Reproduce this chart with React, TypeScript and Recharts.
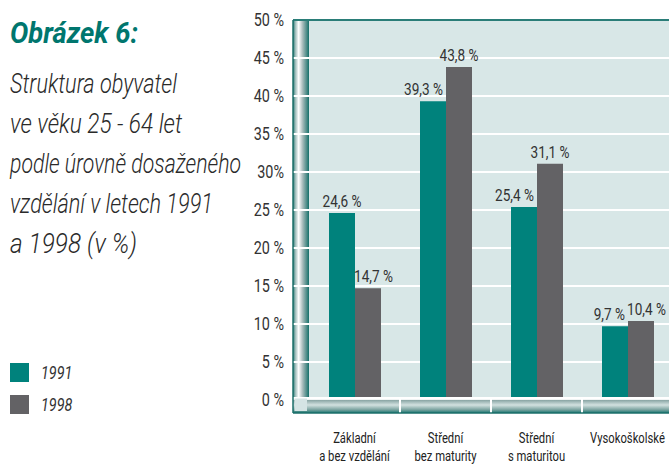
import React from 'react';
import { BarChart, Bar, XAxis, YAxis, CartesianGrid, LabelList, Legend } from 'recharts';

const categories = ['Základní\na bez vzdělání', 'Střední\nbez maturity', 'Střední\ns maturitou', 'Vysokoškolské'];
const values1991 = [24.6, 39.3, 25.4, 9.7];
const values1998 = [14.7, 43.8, 31.1, 10.4];
const yTicks = [0, 5, 10, 15, 20, 25, 30, 35, 40, 45, 50];
const yTickLabels = ['0 %', '5 %', '10 %', '15 %', '20 %', '25 %', '30%', '35 %', '40 %', '45 %', '50 %'];
const seriesNames = ['1991', '1998'];
const titleText = 'Obrázek 6:';
const subtitleLines = ['Struktura obyvatel', 've věku 25 - 64 let', 'podle úrovně dosaženého', 'vzdělání v letech 1991', 'a 1998 (v %)'];
const subtitleWidths = [167, 172, 231, 203, 127];

const data = categories.map((c, i) => ({ cat: c, v1991: values1991[i], v1998: values1998[i] }));

const FONT = "Roboto, 'Noto Sans', sans-serif";
const TEAL = '#00827c';
const GRAY = '#636265';
const BG = '#d8e7e7';
const SX = 0.8;

const CHART_W = 680;
const CHART_H = 465;
const PLOT_LEFT = 309;
const PLOT_TOP = 20;
const PLOT_BOTTOM = 400;
const WALL_LEFT = 293;
const FLOOR_BOTTOM = 413;
const FLOOR_TOP = 397;

const fmt = (v: number) => v.toFixed(1).replace('.', ',') + ' %';

const CText = ({ x, y, anchor = 'start', size, sx = SX, fill = '#333', children }: any) => (
  <text
    transform={`translate(${x} ${y}) scale(${sx} 1)`}
    textAnchor={anchor}
    fontFamily={FONT}
    fontSize={size}
    fill={fill}
  >
    {children}
  </text>
);

const makeLabel = (series: 0 | 1) => (props: any) => {
  const { x, y, width, value, index } = props;
  const other = series === 0 ? values1998[index] : values1991[index];
  let anchor: 'middle' | 'start' | 'end' = 'middle';
  let tx = x + width / 2;
  if (series === 0 && value < other) {
    anchor = 'end';
    tx = x + width - 3;
  }
  if (series === 1 && (value < other || Math.abs(value - other) < 2)) {
    anchor = 'start';
    tx = x - 1;
  }
  return (
    <CText x={tx} y={y - 6} anchor={anchor} size={17}>
      {fmt(value)}
    </CText>
  );
};

const XTick = (props: any) => {
  const { x, y, payload } = props;
  const lines = String(payload.value).split('\n');
  return (
    <g>
      {lines.map((l, i) => (
        <CText key={i} x={x} y={y + 43 + i * 18} anchor="middle" size={15} sx={0.75} fill="#222">
          {l}
        </CText>
      ))}
    </g>
  );
};

const YTick = (props: any) => {
  const { x, y, payload } = props;
  const idx = yTicks.indexOf(payload.value);
  return (
    <CText x={x} y={y + 6} anchor="end" size={18}>
      {yTickLabels[idx]}
    </CText>
  );
};

const LegendContent = (props: any) => {
  const { payload } = props;
  return (
    <div>
      {(payload || []).map((p: any, i: number) => (
        <div key={i} style={{ display: 'flex', alignItems: 'center', height: 32 }}>
          <div style={{ width: 19, height: 19, background: p.color }} />
          <span
            style={{
              marginLeft: 12,
              fontFamily: FONT,
              fontStyle: 'italic',
              fontSize: 18,
              color: '#333',
              display: 'inline-block',
              transform: `scaleX(${SX})`,
              transformOrigin: 'left center',
            }}
          >
            {p.value}
          </span>
        </div>
      ))}
    </div>
  );
};

const Overlay = () => {
  const yOf = (v: number) => PLOT_BOTTOM - (v / 50) * (PLOT_BOTTOM - PLOT_TOP);
  const band = (CHART_W - 7 - PLOT_LEFT) / categories.length;
  return (
    <svg width={CHART_W} height={CHART_H} style={{ position: 'absolute', left: 0, top: 0, pointerEvents: 'none' }}>
      <defs>
        <linearGradient id="wall" x1="0" y1="0" x2="1" y2="0">
          <stop offset="0" stopColor="#2a7a75" />
          <stop offset="0.15" stopColor="#9fbdbb" />
          <stop offset="0.35" stopColor="#ffffff" />
          <stop offset="0.6" stopColor="#a8bcbc" />
          <stop offset="0.85" stopColor="#4f8d89" />
          <stop offset="1" stopColor="#14706a" />
        </linearGradient>
        <linearGradient id="floor" x1="0" y1="0" x2="0" y2="1">
          <stop offset="0" stopColor="#ffffff" />
          <stop offset="0.15" stopColor="#ffffff" />
          <stop offset="0.2" stopColor="#8aa6a5" />
          <stop offset="0.5" stopColor="#d2e1e0" />
          <stop offset="0.8" stopColor="#79a29f" />
          <stop offset="1" stopColor="#177670" />
        </linearGradient>
      </defs>
      <rect x={WALL_LEFT} y={PLOT_TOP} width={PLOT_LEFT - WALL_LEFT} height={FLOOR_BOTTOM - PLOT_TOP} fill="url(#wall)" />
      {yTicks.filter((v) => v > 0 && v < 50).map((v) => (
        <line key={v} x1={WALL_LEFT} x2={PLOT_LEFT} y1={yOf(v)} y2={yOf(v)} stroke="#fff" strokeWidth={2} />
      ))}
      <rect x={WALL_LEFT} y={FLOOR_TOP} width={CHART_W - WALL_LEFT} height={FLOOR_BOTTOM - FLOOR_TOP} fill="url(#floor)" />
      {[1, 2, 3].map((i) => (
        <line key={i} x1={PLOT_LEFT + band * i} x2={PLOT_LEFT + band * i} y1={FLOOR_TOP} y2={FLOOR_BOTTOM} stroke="#fff" strokeWidth={2} />
      ))}
      <rect x={WALL_LEFT + 1.5} y={FLOOR_TOP + 1.5} width={12.5} height={12.5} fill="#d5e4e4" />
      <line x1={WALL_LEFT} x2={CHART_W} y1={PLOT_TOP} y2={PLOT_TOP} stroke="#2a7d78" strokeWidth={2} />
      <line x1={WALL_LEFT} x2={WALL_LEFT} y1={PLOT_TOP} y2={FLOOR_BOTTOM} stroke="#1d6f6a" strokeWidth={1.5} />
      <line x1={WALL_LEFT} x2={CHART_W} y1={FLOOR_BOTTOM} y2={FLOOR_BOTTOM} stroke="#1d6f6a" strokeWidth={1.5} />
      <text x={10} y={43} fontFamily={FONT} fontSize={29} fontWeight="bold" fontStyle="italic" fill="#00766e" textLength={128} lengthAdjust="spacingAndGlyphs">
        {titleText}
      </text>
      {subtitleLines.map((l, i) => (
        <text
          key={i}
          x={10}
          y={93 + i * 40}
          fontFamily={FONT}
          fontSize={27}
          fontStyle="italic"
          fontWeight={300}
          fill="#2a2a2a"
          textLength={subtitleWidths[i]}
          lengthAdjust="spacingAndGlyphs"
        >
          {l}
        </text>
      ))}
    </svg>
  );
};

export default function App() {
  return (
    <div style={{ position: 'fixed', left: 0, top: 0, width: 669, height: 465, overflow: 'hidden', background: '#fff' }}>
      <BarChart width={CHART_W} height={CHART_H} data={data} margin={{ top: PLOT_TOP, right: 7, bottom: 0, left: 249 }} barSize={26} barGap={0}>
        <CartesianGrid vertical={false} stroke="#ffffff" strokeWidth={2} fill={BG} />
        <XAxis dataKey="cat" axisLine={false} tickLine={false} tickSize={0} tickMargin={0} height={65} interval={0} tick={<XTick />} />
        <YAxis domain={[0, 50]} ticks={yTicks} axisLine={false} tickLine={false} tickSize={0} tickMargin={25} width={60} tick={<YTick />} interval={0} />
        <Legend
          layout="vertical"
          verticalAlign="middle"
          align="center"
          content={<LegendContent />}
          wrapperStyle={{ position: 'absolute', left: 10, top: 356, width: 100, height: 64 }}
        />
        <Bar dataKey="v1991" name={seriesNames[0]} fill={TEAL} isAnimationActive={false}>
          <LabelList dataKey="v1991" content={makeLabel(0)} />
        </Bar>
        <Bar dataKey="v1998" name={seriesNames[1]} fill={GRAY} isAnimationActive={false}>
          <LabelList dataKey="v1998" content={makeLabel(1)} />
        </Bar>
      </BarChart>
      <Overlay />
    </div>
  );
}
